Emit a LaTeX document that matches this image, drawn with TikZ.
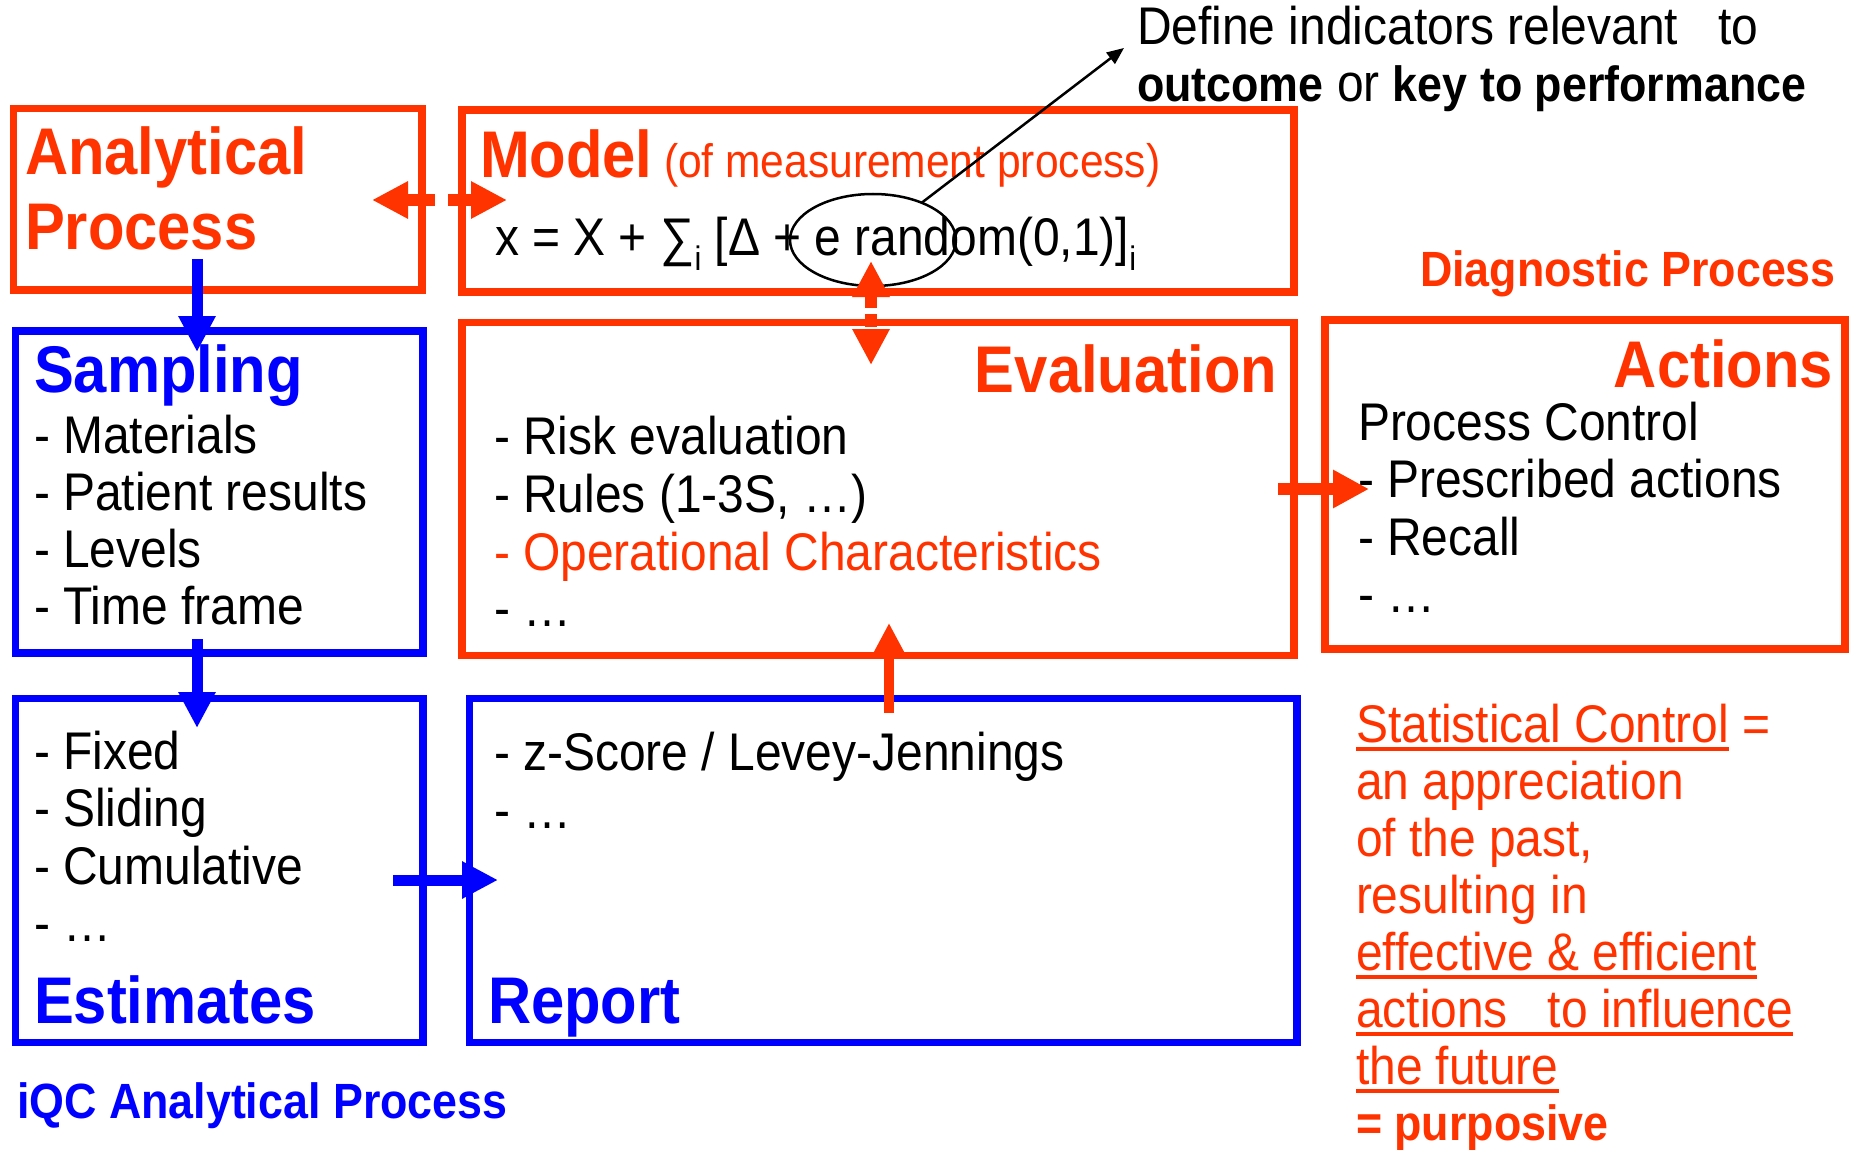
\documentclass[tikz,border=0pt]{standalone}
\usepackage{fontspec}
\setmainfont{Liberation Sans}[FakeStretch=0.905]
\usetikzlibrary{arrows.meta,shapes.geometric,calc}
\definecolor{ppred}{HTML}{FF3300}
\definecolor{ppblue}{HTML}{0000FF}
\newcommand\lowi{\raisebox{-0.3em}{\fontsize{34pt}{34pt}\selectfont i}}
\newcommand\bolder[1]{{\fontsize{49.5pt}{49.5pt}\selectfont\bfseries #1}}

\begin{document}
\begin{tikzpicture}[x=1pt,y=-1pt,
  boxframe/.style={draw, line width=7.5pt, inner sep=0pt, outer sep=0pt, anchor=north west},
  redframe/.style={boxframe, ppred},
  blueframe/.style={boxframe, ppblue},
  txt/.style={inner sep=0pt, outer sep=0pt, anchor=base west},
  heading/.style={txt, font=\fontsize{66pt}{66pt}\selectfont\bfseries},
  listline/.style={txt, font=\fontsize{53pt}{53pt}\selectfont},
  subhead/.style={txt, font=\fontsize{49.5pt}{49.5pt}\selectfont\bfseries},
  blueflow/.style={ppblue, line width=11pt, -{Triangle[length=36pt,width=35pt]}},
  redflow/.style={ppred, line width=12pt, -{Triangle[length=36pt,width=36pt]}},
  redflowthin/.style={ppred, line width=10pt, -{Triangle[length=31pt,width=30pt]}},
  dashflow/.style={ppred, line width=12pt,
    {Triangle[length=36pt,width=35pt]}-{Triangle[length=36pt,width=35pt]}},
  pointer/.style={black, line width=2.5pt, -{Triangle[length=17pt,width=14pt]}},
  underbar/.style={ppred, line width=3.5pt}
]
\useasboundingbox (0,0) rectangle (1851,1150);

% ---- frames ----
\node[redframe, minimum width=408.5pt, minimum height=181.5pt] (ana) at (13.5,108.5) {};
\node[redframe, minimum width=832pt, minimum height=182pt] (mod) at (462,110) {};
\node[blueframe, minimum width=407.5pt, minimum height=322pt] (samp) at (15.5,331) {};
\node[redframe, minimum width=832pt, minimum height=333pt] (eval) at (462,322.5) {};
\node[redframe, minimum width=520pt, minimum height=329pt] (act) at (1325,320) {};
\node[blueframe, minimum width=407.5pt, minimum height=344pt] (est) at (15.5,698.5) {};
\node[blueframe, minimum width=827.5pt, minimum height=344pt] (rep) at (469.5,698.5) {};

% ---- analytical process / model ----
\node[heading, ppred] (anaT1) at (25,175) {Analytical};
\node[heading, ppred] (anaT2) at (25,250) {Process};
\node[heading, ppred] (modT) at (480,178) {Model};
\node[txt, ppred, font=\fontsize{47pt}{47pt}\selectfont] (modS) at (664,178) {(of measurement process)};
\node[txt, font=\fontsize{53pt}{53pt}\selectfont] (formula) at (495,255)
  {x = X + ∑\lowi{} [Δ + e random(0,1)]\lowi};

% ---- sampling ----
\node[heading, ppblue] (sampT) at (34,392) {Sampling};
\foreach \t [count=\i] in {Materials, Patient results, Levels, Time frame}
  \node[listline] (samp\i) at (34,{453+57*(\i-1)}) {- \t};

% ---- evaluation ----
\node[heading, ppred, anchor=base east] (evalT) at (1277,392) {Evaluation};
\node[listline] (eval1) at (494,454) {- Risk evaluation};
\node[listline] (eval2) at (494,512) {- Rules (1-3S, …)};
\node[listline, ppred] (eval3) at (494,570) {- Operational Characteristics};
\node[listline] (eval4) at (494,626) {- …};

% ---- actions ----
\node[heading, ppred, anchor=base east] (actT) at (1833,387) {Actions};
\foreach \t [count=\i] in {Process Control, - Prescribed actions, - Recall, - …}
  \node[listline] (act\i) at (1358,{440+57.5*(\i-1)}) {\t};

% ---- estimates ----
\foreach \t [count=\i] in {Fixed, Sliding, Cumulative, …}
  \node[listline] (est\i) at (34,{769+57.5*(\i-1)}) {- \t};
\node[heading, ppblue] (estT) at (34,1023) {Estimates};

% ---- report ----
\node[listline] (rep1) at (494,770) {- z-Score / Levey-Jennings};
\node[listline] (rep2) at (494,828) {- …};
\node[heading, ppblue] (repT) at (488,1023) {Report};

% ---- captions ----
\node[subhead, ppblue] (iqc) at (17,1118) {iQC Analytical Process};
\node[subhead, ppred] (diag) at (1420,287) {Diagnostic Process};
\node[listline] (def1) at (1137,45) {Define indicators relevant\ \ \ to};
\node[listline] (def2) at (1137,102) {\bolder{outcome} or \bolder{key to performance}};

% ---- statistical control note ----
\node[listline, ppred] (st1) at (1356,742) {Statistical Control};
\node[listline, ppred] (st1b) at (st1.base east) {\ =};
\node[listline, ppred] (st2) at (1356,799) {an appreciation};
\node[listline, ppred] (st3) at (1356,856) {of the past,};
\node[listline, ppred] (st4) at (1356,913) {resulting in};
\node[listline, ppred] (st5) at (1356,970) {effective \& efficient};
\node[listline, ppred] (st6) at (1356,1027) {actions\ \ \ to influence\ };
\node[listline, ppred] (st7) at (1356,1084) {the future\ };
\node[listline, ppred] (st8) at (1356,1140) {\bolder{= purposive}};
\foreach \n in {st1,st5,st6,st7}
  \draw[underbar] ([yshift=-7pt]\n.base west) -- ([yshift=-7pt]\n.base east);

% ---- highlighted error term ----
\node[draw, ellipse, line width=2.5pt, minimum width=166pt, minimum height=92pt,
      inner sep=0pt, outer sep=0pt] (ell) at (873,240) {};
\coordinate (ptr) at ([xshift=-13pt,yshift=-3pt]def1.base west);
\draw[pointer] (ell) -- (ptr);

% ---- flows ----
\coordinate (colA) at (197,0);
\coordinate (colC) at (871,0);
\coordinate (colD) at (889,0);
\coordinate (rowA) at (0,200);
\coordinate (rowB) at (0,489);
\coordinate (rowC) at (0,880);

\draw[blueflow, shorten <=-31pt, shorten >=-21pt] (ana.south -| colA) -- (samp.north -| colA);
\draw[blueflow, shorten <=-14pt, shorten >=-29.5pt] (samp.south -| colA) -- (est.north -| colA);
\draw[blueflow, shorten <=-30pt, shorten >=-28.5pt] (est.east |- rowC) -- (rep.west |- rowC);
\draw[redflowthin, shorten <=-14.5pt, shorten >=-32.5pt] (rep.north -| colD) -- (eval.south -| colD);
\draw[redflow, shorten <=-16pt, shorten >=-44pt] (eval.east |- rowB) -- (act.west |- rowB);
\draw[dashflow, dash pattern=on 29pt off 13pt, shorten <=-50pt, shorten >=-45pt]
  (ana.east |- rowA) -- (mod.west |- rowA);
\draw[dashflow, dash pattern=on 13pt off 6pt, shorten <=-31pt, shorten >=-42.5pt]
  (mod.south -| colC) -- (eval.north -| colC);
\end{tikzpicture}
\end{document}
